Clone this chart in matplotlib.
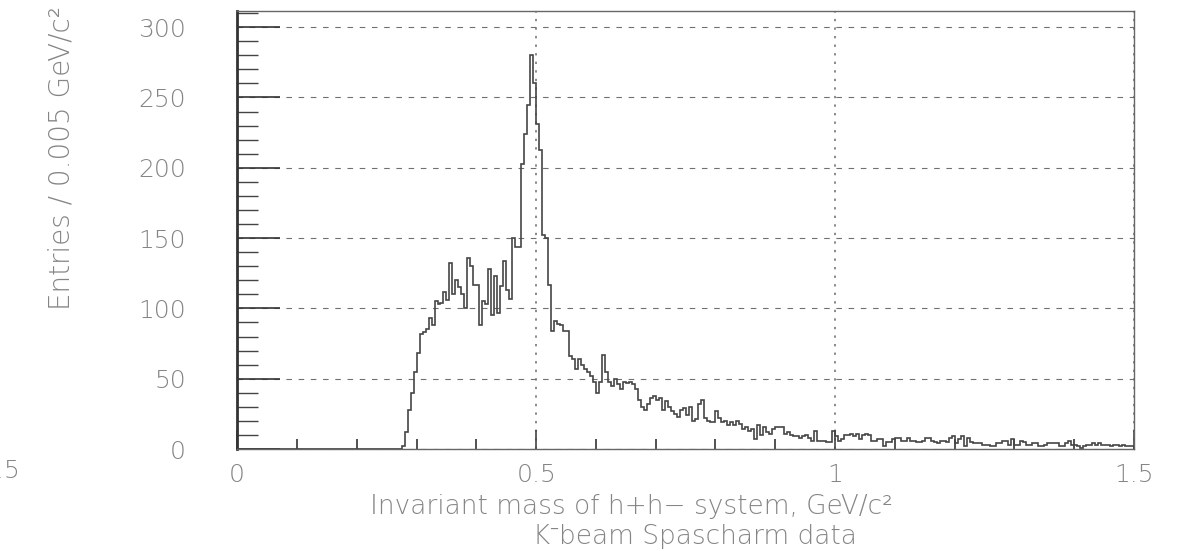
#K- beam invariant mass histogram


import numpy as np
import matplotlib
matplotlib.use("Agg")
import matplotlib.pyplot as plt
from matplotlib.ticker import MultipleLocator

plt.rcParams['font.family'] = ['DejaVu Sans', 'Noto Sans']

bin_width = 0.005
x_min = 0.0

# entries per 0.005 GeV/c^2 bin
counts_empty = [0] * 55                     # 0.000 - 0.275
counts_rise = [                             # 0.275 - 0.525
    2, 12, 28, 40, 55, 68, 82, 83, 85, 93,
    88, 105, 103, 104, 112, 106, 132, 110, 120, 115,
    110, 100, 136, 130, 117, 117, 88, 105, 103, 128,
    95, 123, 97, 116, 134, 113, 107, 150, 144, 144,
    203, 224, 245, 280, 260, 231, 213, 152, 150, 117,
]
counts_tail = [                             # 0.525 - 1.000
    84, 91, 89, 88, 84, 84, 66, 64, 57, 64,
    60, 57, 55, 52, 48, 40, 48, 67, 55, 48,
    45, 50, 46, 43, 48, 47, 48, 46, 43, 35,
    30, 28, 32, 36, 38, 35, 36, 28, 34, 30,
    27, 25, 23, 28, 29, 24, 30, 20, 21, 32,
    35, 22, 20, 19, 19, 27, 22, 19, 20, 17,
    19, 17, 20, 18, 14, 16, 13, 14, 7, 17,
    10, 16, 12, 11, 14, 16, 16, 16, 11, 12,
    10, 9, 9, 8, 9, 10, 8, 6, 13, 6,
    6, 6, 5, 5, 13,
]
counts_high = [                             # 1.000 - 1.500
    9, 6, 7, 10, 10, 11, 9, 11, 7, 10,
    11, 10, 6, 6, 7, 7, 2, 5, 5, 7,
    8, 8, 6, 6, 8, 6, 6, 5, 5, 6,
    8, 8, 6, 5, 4, 6, 6, 5, 8, 9,
    4, 7, 9, 2, 8, 5, 4, 4, 4, 3,
    3, 3, 2, 2, 4, 4, 6, 6, 3, 7,
    3, 3, 6, 5, 3, 3, 4, 4, 2, 2,
    3, 4, 4, 4, 4, 2, 2, 4, 6, 3,
    3, 2, 1, 2, 3, 3, 4, 3, 4, 3,
    3, 3, 2, 3, 3, 2, 3, 2, 2, 2,
]

x_ticks = [0, 0.5, 1, 1.5]
x_tick_labels = ['0', '0.5', '1', '1.5']
y_ticks = [0, 50, 100, 150, 200, 250, 300]
y_tick_labels = ['0', '50', '100', '150', '200', '250', '300']


def main():
    counts = np.array(counts_empty + counts_rise + counts_tail + counts_high)
    edges = x_min + bin_width * np.arange(len(counts) + 1)

    fig = plt.figure(figsize=(11.94, 5.51), dpi=100)
    ax = fig.add_axes([0.1987, 0.1851, 0.7510, 0.7949])

    ax.stairs(counts, edges, color='#454545', linewidth=1.2, zorder=3)

    ax.set_xlim(0, 1.5)
    ax.set_ylim(0, 311.5)
    ax.set_xticks(x_ticks, x_tick_labels)
    ax.set_yticks(y_ticks, y_tick_labels)
    ax.xaxis.set_minor_locator(MultipleLocator(0.1))
    ax.yaxis.set_minor_locator(MultipleLocator(10))

    lab_color = '#858585'
    ax.tick_params(axis='y', which='major', direction='in', length=31,
                   width=1.2, color='#333333', pad=37, labelsize=18,
                   labelcolor=lab_color)
    ax.tick_params(axis='y', which='minor', direction='in', length=15,
                   width=1.0, color='#444444')
    ax.tick_params(axis='x', which='major', direction='in', length=14,
                   width=1.2, color='#444444', pad=10, labelsize=18,
                   labelcolor=lab_color)
    ax.tick_params(axis='x', which='minor', direction='in', length=7,
                   width=1.2, color='#333333')
    for lab in ax.get_xticklabels() + ax.get_yticklabels():
        lab.set_fontweight('light')

    ax.grid(axis='y', which='major', linestyle=(0, (5, 6)),
            color='#707070', linewidth=0.8)
    ax.grid(axis='x', which='major', linestyle=(0, (1.2, 3.2)),
            color='#8a8a8a', linewidth=1.4)

    ax.spines['left'].set_linewidth(2.0)
    ax.spines['left'].set_color('#333333')
    for side in ['top', 'right', 'bottom']:
        ax.spines[side].set_linewidth(1.0)
        ax.spines[side].set_color('#666666')

    ax.set_ylabel('Entries / 0.005 GeV/c²', fontsize=20, color=lab_color,
                  fontweight='light')
    ax.yaxis.set_label_coords(-0.18, 0.664)
    ax.set_xlabel('Invariant mass of h+h− system, GeV/c²', fontsize=19,
                  color=lab_color, fontweight='light', va='baseline')
    ax.xaxis.set_label_coords(0.44, -0.148)
    fig.text(0.582, 0.012, 'K⁻beam Spascharm data', fontsize=19,
             color=lab_color, fontweight='light', ha='center',
             va='baseline', family=['DejaVu Sans', 'Noto Sans'])
    # leftover label of the canvas, cut at the picture edge
    fig.text(0.017, 0.145, '−0.5', fontsize=18, color=lab_color,
             fontweight='light', ha='right', va='center')

    fig.savefig('out.png', dpi=100)


main()
